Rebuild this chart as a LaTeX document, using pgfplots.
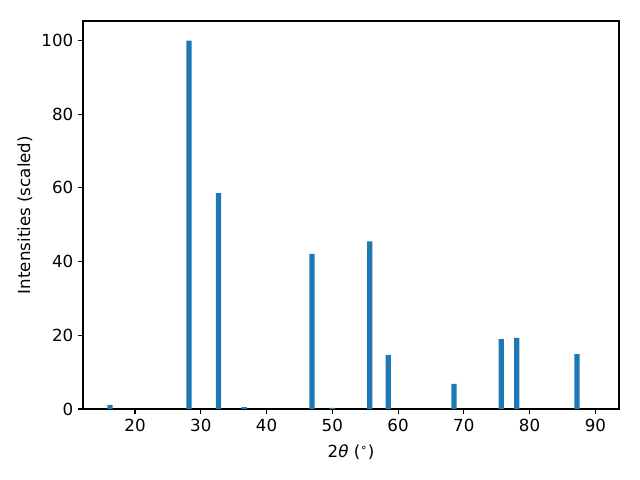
\documentclass[border=0pt]{standalone}
\usepackage{pgfplots}
\pgfplotsset{compat=1.18}
\usepackage{fontspec}
\setmainfont{DejaVu Sans}
\definecolor{C0}{HTML}{1F77B4}
\begin{document}
\begin{tikzpicture}
\begin{axis}[
  scale only axis,
  width=385.9pt, height=279.4pt,
  xmin=12.1, xmax=93.6, ymin=0, ymax=105.3,
  xtick={20,30,...,90}, ytick={0,20,...,100},
  tick align=outside, xtick pos=bottom, ytick pos=left,
  major tick length=3.5pt,
  every tick/.style={black, line width=0.8pt},
  axis line style={line width=0.8pt},
  tick label style={font=\fontsize{12}{14}\selectfont},
  label style={font=\fontsize{12}{14}\selectfont},
  /pgf/number format/assume math mode=true,
  xlabel={2\textit{θ} (\textsuperscript{∘})},
  ylabel={Intensities (scaled)},
  xlabel style={at={(axis description cs:0.5,0)}, anchor=north, yshift=-22.5pt},
  ylabel style={at={(axis description cs:0,0.5)}, anchor=south, yshift=33pt},
]
\addplot[ybar, bar width=0.8, fill=C0, draw=none] coordinates {
(16.2,1.1) (28.2,100) (32.7,58.6) (36.6,0.5) (46.9,42.1) (50.0,0.3)
(55.7,45.5) (58.5,14.7) (68.5,6.8) (75.7,19.0) (78.06,19.3) (87.2,14.9)
};
\end{axis}
\path (current axis.south west) ++(-59.8pt,-51.1pt) (current axis.north east) ++(15.1pt,15.1pt);
\end{tikzpicture}
\end{document}
